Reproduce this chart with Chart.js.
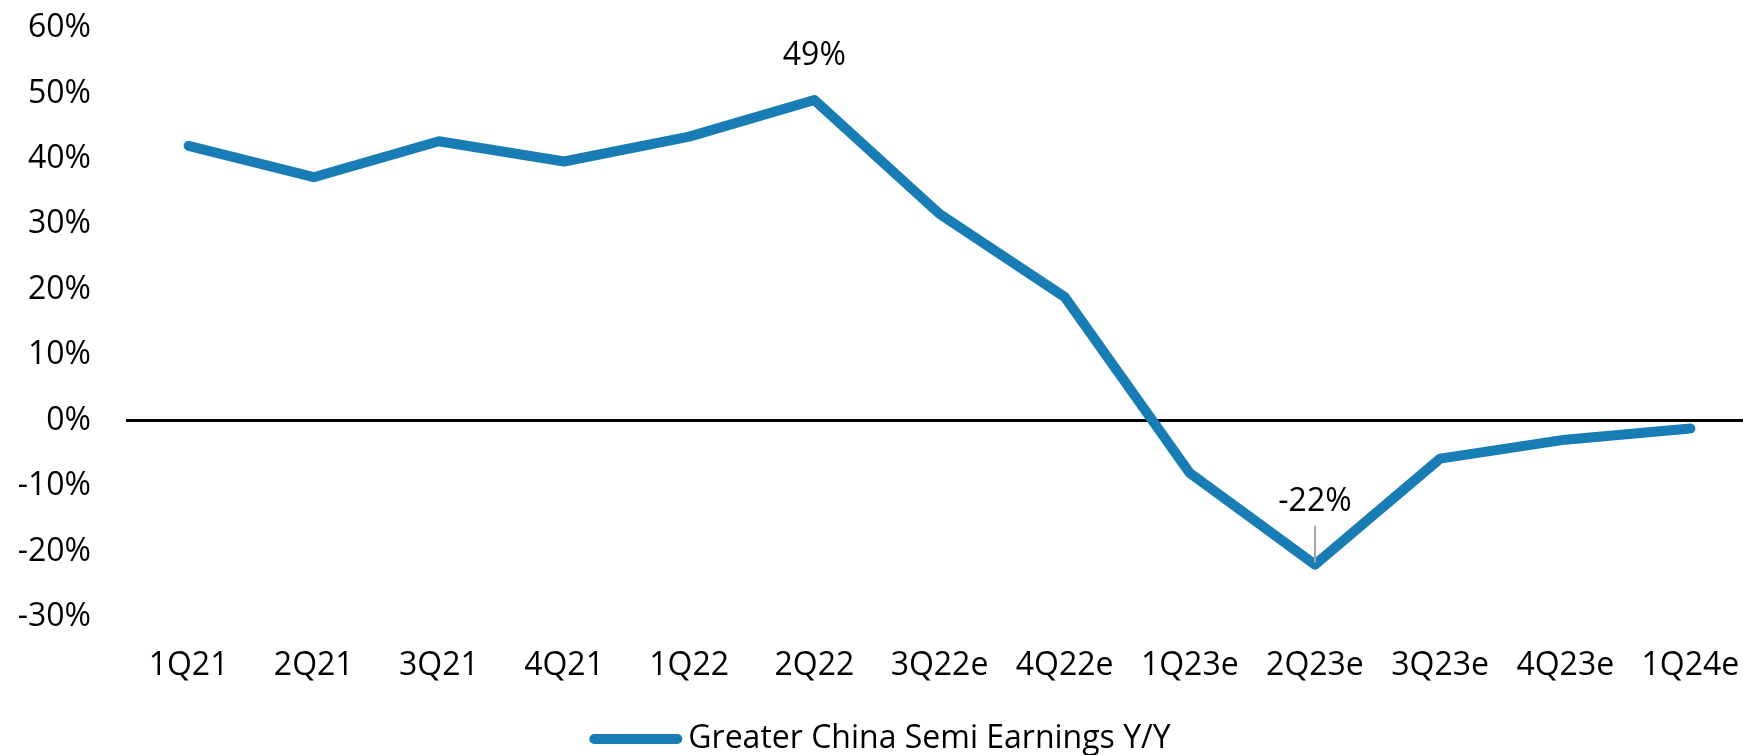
<!DOCTYPE html>
<html>
<head>
<meta charset="utf-8">
<script src="https://cdn.jsdelivr.net/npm/chart.js@4.4.1/dist/chart.umd.min.js"></script>
<style>
  html, body { margin: 0; padding: 0; background: #ffffff; overflow: hidden; }
  #wrap { width: 1743px; height: 755px; overflow: hidden; position: relative; }
  canvas { display: block; }
</style>
</head>
<body>
<div id="wrap"><canvas id="chart" width="1753" height="755"></canvas></div>
<script>
// Quarterly year-over-year earnings growth, in percent
const quarters = ['1Q21', '2Q21', '3Q21', '4Q21', '1Q22', '2Q22', '3Q22e', '4Q22e', '1Q23e', '2Q23e', '3Q23e', '4Q23e', '1Q24e'];
const earningsYoY = [42.0, 37.2, 42.7, 39.6, 43.4, 49, 31.6, 18.9, -8.0, -22, -5.8, -2.9, -1.2];
const yTickValues = [-30, -20, -10, 0, 10, 20, 30, 40, 50, 60];
const seriesName = 'Greater China Semi Earnings Y/Y';
const calloutQuarters = ['2Q22', '2Q23e'];

const FONT = '"Open Sans", "Noto Sans", sans-serif';
const FONT_SIZE = 32;
const LEGEND_FONT_SIZE = 32;
const LINE_BLUE = '#177db4';

// Value callouts above selected points, with an optional grey leader line
const callouts = {
  id: 'callouts',
  afterDatasetsDraw(chart, args, opts) {
    const { ctx } = chart;
    const xs = chart.scales.x, ys = chart.scales.y;
    opts.items.forEach(item => {
      const i = quarters.indexOf(item.quarter);
      const v = earningsYoY[i];
      const px = xs.getPixelForValue(i);
      const py = ys.getPixelForValue(v);
      ctx.save();
      if (item.leader) {
        ctx.strokeStyle = '#a6a6a6';
        ctx.lineWidth = 2;
        ctx.beginPath();
        ctx.moveTo(px, py - item.leader[0]);
        ctx.lineTo(px, py - item.leader[1]);
        ctx.stroke();
      }
      ctx.font = FONT_SIZE + 'px ' + FONT;
      ctx.fillStyle = '#000000';
      ctx.textAlign = 'center';
      ctx.textBaseline = 'middle';
      ctx.fillText(Math.round(v) + '%', px, py - item.lift);
      ctx.restore();
    });
  }
};

// Single-entry legend: thick line sample followed by the series name
const lineLegend = {
  id: 'lineLegend',
  afterDraw(chart, args, opts) {
    const { ctx } = chart;
    const ds = chart.data.datasets[0];
    ctx.save();
    ctx.font = LEGEND_FONT_SIZE + 'px ' + FONT;
    const tw = ctx.measureText(ds.label).width;
    const total = opts.sampleLength + opts.gap + tw;
    const x0 = opts.centerX - total / 2;
    ctx.strokeStyle = ds.borderColor;
    ctx.lineWidth = opts.sampleWidth;
    ctx.lineCap = 'round';
    ctx.beginPath();
    ctx.moveTo(x0 + opts.sampleWidth / 2, opts.y);
    ctx.lineTo(x0 + opts.sampleLength - opts.sampleWidth / 2, opts.y);
    ctx.stroke();
    ctx.fillStyle = '#000000';
    ctx.textAlign = 'left';
    ctx.textBaseline = 'middle';
    ctx.fillText(ds.label, x0 + opts.sampleLength + opts.gap, opts.y);
    ctx.restore();
  }
};

new Chart(document.getElementById('chart'), {
  type: 'line',
  data: {
    labels: quarters,
    datasets: [{
      label: seriesName,
      data: earningsYoY,
      borderColor: LINE_BLUE,
      backgroundColor: LINE_BLUE,
      borderWidth: 10,
      borderCapStyle: 'round',
      borderJoinStyle: 'round',
      pointRadius: 0,
      pointHoverRadius: 0,
      tension: 0,
      fill: false
    }]
  },
  options: {
    responsive: false,
    animation: false,
    devicePixelRatio: 1,
    layout: { padding: { top: 28, right: 0, bottom: 38, left: 0 } },
    plugins: {
      legend: { display: false },
      tooltip: { enabled: false },
      callouts: {
        items: [
          { quarter: calloutQuarters[0], lift: 44 },
          { quarter: calloutQuarters[1], lift: 63, leader: [39, 2] }
        ]
      },
      lineLegend: { centerX: 880, y: 739, sampleLength: 93, sampleWidth: 10, gap: 6 }
    },
    scales: {
      x: {
        type: 'category',
        offset: true,
        grid: { display: false, drawTicks: false },
        border: { display: false },
        ticks: {
          color: '#000000',
          font: { family: FONT, size: FONT_SIZE },
          padding: 30,
          maxRotation: 0,
          autoSkip: false
        },
        afterFit(scale) {
          scale.height = 100;
          scale.paddingLeft = 0;
          scale.paddingRight = 0;
        }
      },
      y: {
        min: -30,
        max: 60,
        grid: {
          drawTicks: false,
          color: ctx => (ctx.tick && ctx.tick.value === 0 ? '#000000' : 'rgba(0,0,0,0)'),
          lineWidth: ctx => (ctx.tick && ctx.tick.value === 0 ? 3 : 0)
        },
        border: { display: false },
        afterBuildTicks(scale) { scale.ticks = yTickValues.map(v => ({ value: v })); },
        ticks: {
          color: '#000000',
          font: { family: FONT, size: FONT_SIZE },
          padding: 35,
          callback: v => v + '%'
        },
        afterFit(scale) {
          scale.width = 126;
          scale.paddingTop = 0;
          scale.paddingBottom = 0;
        }
      }
    }
  },
  plugins: [callouts, lineLegend]
});
</script>
</body>
</html>
